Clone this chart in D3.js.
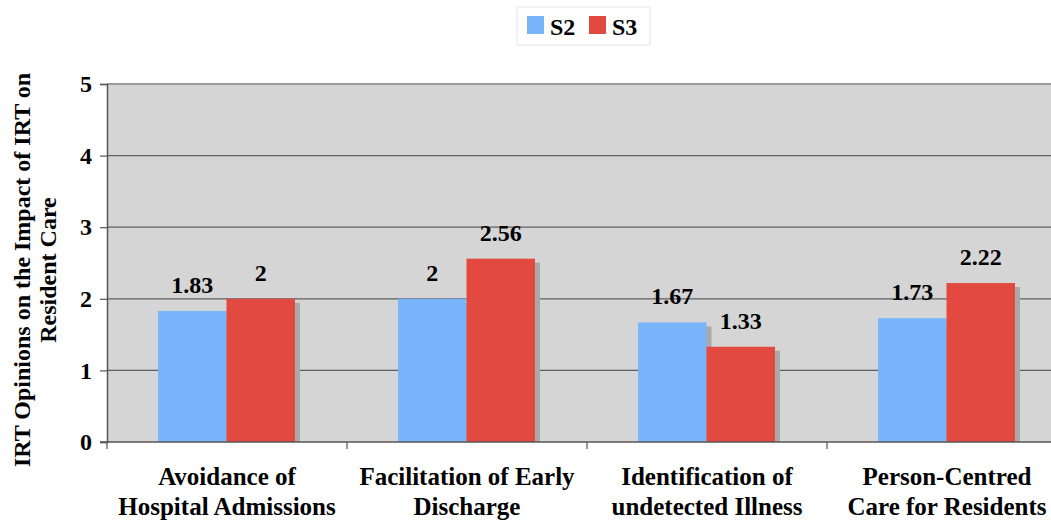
<!DOCTYPE html>
<html>
<head>
<meta charset="utf-8">
<script src="https://cdn.jsdelivr.net/npm/d3@7"></script>
<style>
  body { margin: 0; background: #fff; }
  text { font-family: "Liberation Serif", "Times New Roman", serif; font-weight: bold; fill: #000; }
</style>
</head>
<body>
<svg id="chart" width="1051" height="525" font-family="Liberation Serif" font-weight="bold"></svg>
<script>
var categories = [
    ["Avoidance of", "Hospital Admissions"],
    ["Facilitation of Early", "Discharge"],
    ["Identification of", "undetected Illness"],
    ["Person-Centred", "Care for Residents"]
];
var s2Values = [1.83, 2, 1.67, 1.73];
var s3Values = [2, 2.56, 1.33, 2.22];
var seriesNames = ["S2", "S3"];
var seriesColors = ["#7ab5fb", "#e24a41"];
var yTicks = [0, 1, 2, 3, 4, 5];

var svg = d3.select("#chart");
var plotLeft = 107, plotTop = 84, plotBottom = 442, bandW = 240;

var x = d3.scaleBand()
    .domain(d3.range(categories.length))
    .range([plotLeft, plotLeft + bandW * categories.length])
    .paddingInner(0).paddingOuter(0);
var inner = d3.scaleBand().domain([0, 1]).range([51, 51 + 137]);
var y = d3.scaleLinear().domain([0, 5]).range([plotBottom, plotTop]);

// plot background
svg.append("rect")
    .attr("x", plotLeft).attr("y", plotTop)
    .attr("width", 1051 - plotLeft).attr("height", plotBottom - plotTop)
    .attr("fill", "#d5d5d5");

// gridlines
svg.selectAll(".grid")
    .data(yTicks.filter(function(d) { return d > 0 && d < 5; })).enter()
    .append("line")
    .attr("x1", plotLeft).attr("x2", 1051)
    .attr("y1", function(d) { return y(d) }).attr("y2", function(d) { return y(d) })
    .attr("stroke", "#606060").attr("stroke-width", 1.2);
svg.append("line")
    .attr("x1", plotLeft).attr("x2", 1051).attr("y1", y(5)).attr("y2", y(5))
    .attr("stroke", "#9a9a9a").attr("stroke-width", 2);

var data = categories.map(function(c, i) { return [s2Values[i], s3Values[i]]; });

// bars with shadows
data.forEach(function(vals, i) {
    vals.forEach(function(v, s) {
        var bx = x(i) + inner(s);
        svg.append("rect")
            .attr("x", bx + 5).attr("y", y(v) + 4)
            .attr("width", inner.bandwidth()).attr("height", plotBottom - y(v) - 4)
            .attr("fill", "#a9a9a9");
        svg.append("rect")
            .attr("x", bx).attr("y", y(v))
            .attr("width", inner.bandwidth()).attr("height", plotBottom - y(v))
            .attr("fill", seriesColors[s]);
        svg.append("text")
            .attr("x", bx + inner.bandwidth() / 2)
            .attr("y", y(v) - 18)
            .attr("text-anchor", "middle")
            .attr("font-family", "Liberation Serif")
            .attr("font-size", 24)
            .text(v);
    });
});

// axes
var yAxis = svg.append("g").attr("transform", "translate(" + plotLeft + ",0)")
    .call(d3.axisLeft(y).tickValues(yTicks).tickSize(7).tickPadding(8).tickFormat(d3.format("d")));
yAxis.attr("font-family", "Liberation Serif");
yAxis.select(".domain").attr("stroke", "#555").attr("stroke-width", 1.5);
yAxis.selectAll(".tick line").attr("stroke", "#555").attr("stroke-width", 1.2);
yAxis.selectAll(".tick text").attr("font-size", 24).attr("font-family", "Liberation Serif").attr("font-weight", "bold").attr("fill", "#000");

svg.append("line")
    .attr("x1", plotLeft - 7).attr("x2", 1051).attr("y1", plotBottom).attr("y2", plotBottom)
    .attr("stroke", "#555").attr("stroke-width", 1.5);
svg.selectAll(".xtick")
    .data(d3.range(categories.length + 1)).enter()
    .append("line")
    .attr("x1", function(d) { return plotLeft + d * bandW }).attr("x2", function(d) { return plotLeft + d * bandW })
    .attr("y1", plotBottom).attr("y2", plotBottom + 7)
    .attr("stroke", "#555").attr("stroke-width", 1.2);

// category labels
svg.selectAll(".cat")
    .data(categories).enter()
    .append("text")
    .attr("text-anchor", "middle")
    .attr("font-family", "Liberation Serif")
    .attr("font-size", 25)
    .each(function(c, i) {
        d3.select(this).selectAll("tspan").data(c).enter().append("tspan")
            .attr("x", x(i) + bandW / 2)
            .attr("y", function(d, k) { return 485 + k * 30 })
            .text(function(d) { return d });
    });

// y axis title
var yt = svg.append("text")
    .attr("transform", "translate(0,270) rotate(-90)")
    .attr("text-anchor", "middle")
    .attr("font-family", "Liberation Serif")
    .attr("font-size", 24);
yt.append("tspan").attr("x", 0).attr("y", 30).text("IRT Opinions on the Impact of IRT on");
yt.append("tspan").attr("x", 0).attr("y", 56).text("Resident Care");

// legend
var lg = svg.append("g").attr("transform", "translate(517,7)");
lg.append("rect").attr("width", 133).attr("height", 38)
    .attr("fill", "#fff").attr("stroke", "#e6e6e6");
seriesNames.forEach(function(n, s) {
    lg.append("rect").attr("x", 10 + s * 62).attr("y", 9).attr("width", 17).attr("height", 18)
        .attr("fill", seriesColors[s]);
    lg.append("text").attr("x", 33 + s * 62).attr("y", 28)
        .attr("font-family", "Liberation Serif").attr("font-size", 24).text(n);
});
</script>
</body>
</html>
